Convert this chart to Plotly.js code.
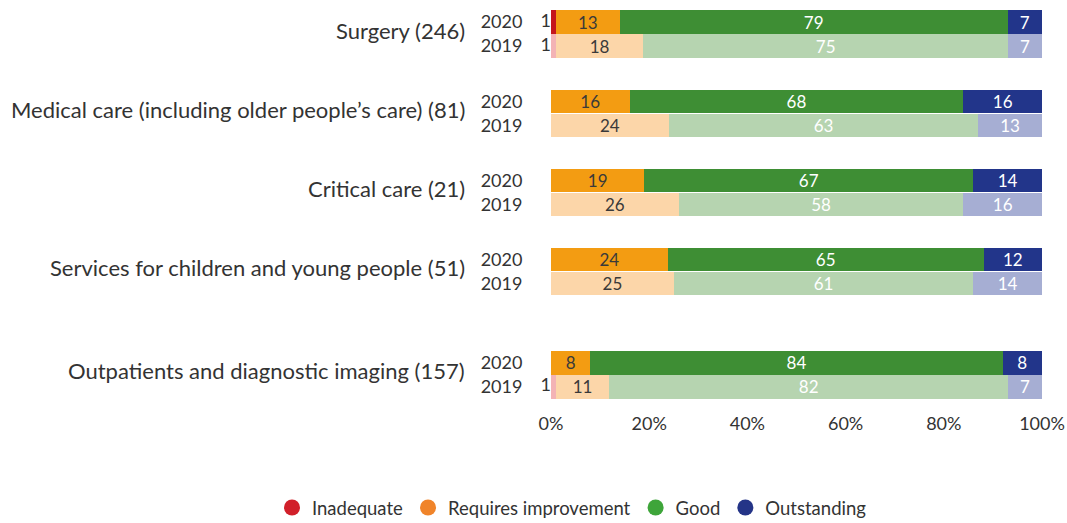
<!DOCTYPE html>
<html>
<head>
<meta charset="utf-8">
<script src="https://cdn.plot.ly/plotly-3.0.1.min.js"></script>
<style>html,body{margin:0;padding:0;background:#fff;}#chart{width:1067px;height:523px;}</style>
</head>
<body>
<div id="chart"></div>
<script>
// ---- Data ----
const groups = [
  'Surgery (246)',
  'Medical care (including older people\u2019s care) (81)',
  'Critical care (21)',
  'Services for children and young people (51)',
  'Outpatients and diagnostic imaging (157)'
];
const years = ['2020', '2019'];
const categories = ['Inadequate', 'Requires improvement', 'Good', 'Outstanding'];

const inadequate2020 = [1, 0, 0, 0, 0];
const inadequate2019 = [1, 0, 0, 0, 1];
const requires2020 = [13, 16, 19, 24, 8];
const requires2019 = [18, 24, 26, 25, 11];
const good2020 = [79, 68, 67, 65, 84];
const good2019 = [75, 63, 58, 61, 82];
const outstanding2020 = [7, 16, 14, 12, 8];
const outstanding2019 = [7, 13, 16, 14, 7];

const xTickVals = [0, 20, 40, 60, 80, 100];
const xTickText = ['0%', '20%', '40%', '60%', '80%', '100%'];

// ---- Styles ----
const barColors = {
  'Inadequate': ['#C4161C', '#F3B3B5'],
  'Requires improvement': ['#F39C12', '#FCD6A9'],
  'Good': ['#3E8E34', '#B6D4B0'],
  'Outstanding': ['#22358A', '#A6AED3']
};
const textColors = {
  'Inadequate': ['#ffffff', '#333333'],
  'Requires improvement': ['#3a3a3a', '#3a3a3a'],
  'Good': ['#ffffff', '#ffffff'],
  'Outstanding': ['#ffffff', '#ffffff']
};
const legendColors = ['#D1202A', '#F0842A', '#3EA53A', '#243487'];
const FONT = 'Lato, "Open Sans", sans-serif';
const TXT = '#333333';

const series = {
  'Inadequate': [inadequate2020, inadequate2019],
  'Requires improvement': [requires2020, requires2019],
  'Good': [good2020, good2019],
  'Outstanding': [outstanding2020, outstanding2019]
};

// row layout (positions computed, not data)
const groupStep = 3.3, extraGapBeforeLast = 1.0;
const rowPos = [], rowYear = [], groupCenter = [];
groups.forEach((g, i) => {
  const base = i * groupStep + (i === groups.length - 1 ? extraGapBeforeLast : 0);
  years.forEach((y, j) => { rowPos.push(base + j); rowYear.push(y); });
  groupCenter.push(base + 0.5);
});

const traces = [];
categories.forEach(cat => {
  const x = [], colors = [], tcol = [], text = [];
  groups.forEach((g, i) => {
    years.forEach((y, j) => {
      const v = series[cat][j][i];
      x.push(v);
      colors.push(barColors[cat][j]);
      tcol.push(textColors[cat][j]);
      text.push(cat === 'Inadequate' || v === 0 ? '' : String(v));
    });
  });
  traces.push({
    type: 'bar', orientation: 'h', name: cat, showlegend: false,
    x: x, y: rowPos, width: 0.96,
    marker: {color: colors, line: {width: 0}},
    text: text, textposition: 'inside', insidetextanchor: 'middle',
    textangle: 0, constraintext: 'none',
    textfont: {family: FONT, size: 17, color: tcol},
    hoverinfo: 'x+y'
  });
});

// Inadequate value labels left of bars
const inX = [], inY = [], inT = [];
groups.forEach((g, i) => {
  years.forEach((y, j) => {
    const v = series['Inadequate'][j][i];
    if (v > 0) { inX.push(0); inY.push(rowPos[i * 2 + j]); inT.push(String(v)); }
  });
});
traces.push({
  type: 'scatter', mode: 'text', x: inX, y: inY, text: inT,
  textposition: 'middle left', cliponaxis: false, showlegend: false,
  textfont: {family: FONT, size: 18, color: TXT}, hoverinfo: 'skip'
});

// Legend entries (circles)
categories.forEach((cat, k) => {
  traces.push({
    type: 'scatter', mode: 'markers', name: cat, x: [null], y: [null],
    marker: {color: legendColors[k], size: 20, symbol: 'circle'}
  });
});

// page geometry: wide plot area, axes placed through domains
const W = 1067, H = 523, M = {l: 10, r: 25, t: 10, b: 60};
const areaW = W - M.l - M.r, areaH = H - M.t - M.b;
const plotLeft = 551, plotBottom = 399;
const px = v => (v - M.l) / areaW;          // page x -> paper x
const py = v => (H - M.b - v) / areaH;      // page y -> paper y

const annotations = groups.map((g, i) => ({
  xref: 'paper', yref: 'y', x: px(467), y: groupCenter[i], yshift: 4,
  xanchor: 'right', yanchor: 'middle', text: g, showarrow: false,
  font: {family: FONT, size: 22, color: TXT}
}));

const layout = {
  width: W, height: H,
  margin: M,
  paper_bgcolor: '#ffffff', plot_bgcolor: '#ffffff',
  barmode: 'stack', barnorm: 'percent',
  font: {family: FONT, color: TXT},
  xaxis: {
    domain: [px(plotLeft), 1],
    range: [0, 100], tickvals: xTickVals, ticktext: xTickText,
    showgrid: false, zeroline: false, showline: false,
    ticks: 'outside', ticklen: 8, tickcolor: 'rgba(0,0,0,0)',
    tickfont: {family: FONT, size: 18, color: TXT}, fixedrange: true
  },
  yaxis: {
    domain: [py(plotBottom), 1],
    range: [rowPos[rowPos.length - 1] + 0.5, -0.5],
    tickvals: rowPos, ticktext: rowYear,
    showgrid: false, zeroline: false, showline: false,
    ticks: 'outside', ticklen: 24, tickcolor: 'rgba(0,0,0,0)',
    tickfont: {family: FONT, size: 18, color: TXT}, fixedrange: true
  },
  showlegend: true,
  legend: {
    orientation: 'h', traceorder: 'normal', itemwidth: 30,
    xref: 'paper', yref: 'container',
    x: px(272), xanchor: 'left', y: 1 - 508 / H, yanchor: 'middle',
    font: {family: FONT, size: 18.5, color: TXT}, bgcolor: 'rgba(0,0,0,0)'
  },
  annotations: annotations
};

Plotly.newPlot('chart', traces, layout, {displayModeBar: false, staticPlot: true});
</script>
</body>
</html>
